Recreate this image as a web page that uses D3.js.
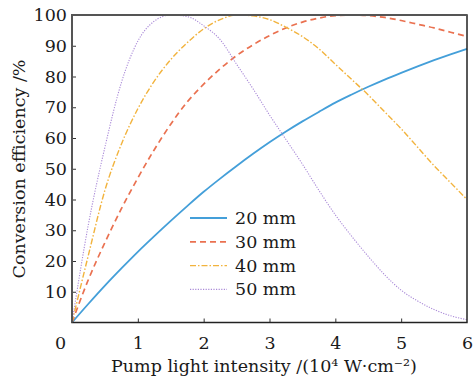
<!DOCTYPE html>
<html>
<head>
<meta charset="utf-8">
<script src="https://cdn.jsdelivr.net/npm/d3@7"></script>
<style>
  body { margin: 0; background: #fff; }
  svg text { font-family: "DejaVu Serif", serif; fill: #1a1a1a; }
</style>
</head>
<body>
<svg id="chart" width="473" height="379"></svg>
<script>
// pump intensity (10^4 W/cm^2), sampled every 0.25
var intensity = [0, 0.25, 0.5, 0.75, 1, 1.25, 1.5, 1.75, 2, 2.25, 2.5, 2.75, 3,
                 3.25, 3.5, 3.75, 4, 4.25, 4.5, 4.75, 5, 5.25, 5.5, 5.75, 6];

var eff20 = [0, 6.1, 12, 17.6, 23, 28.1, 33.05, 37.85, 42.5, 46.8, 50.9, 54.85, 58.6,
             62.1, 65.4, 68.5, 71.5, 74.15, 76.65, 79, 81.2, 83.3, 85.3, 87.2, 89];
var eff30 = [0, 14, 26, 37, 47, 56.2, 64.5, 71.7, 77.5, 82.5, 86.8, 90.3, 93.3,
             95.8, 97.7, 99, 99.8, 100, 99.8, 99.2, 98.2, 97, 95.8, 94.4, 93];
var eff40 = [0, 22, 43, 58, 69.5, 78.5, 85.5, 91, 95.5, 98.5, 100, 99.7, 98.5,
             96, 93, 89, 84, 79, 74, 68.5, 63, 57, 51, 45.5, 40];
var eff50 = [0, 32, 57, 78, 91.5, 98, 100, 99.5, 96.5, 92, 84, 76, 67.5,
             59.5, 51.5, 43, 35, 28, 21.5, 15.5, 10.5, 7, 4.2, 2.2, 0.9];

var seriesNames = ["20 mm", "30 mm", "40 mm", "50 mm"];
var xTicks = [0, 1, 2, 3, 4, 5, 6];
var yTicks = [10, 20, 30, 40, 50, 60, 70, 80, 90, 100];

var svg = d3.select("#chart");
var mLeft = 72, mRight = 467, mTop = 15, mBottom = 322.5;
var fs = 17.5;

var x = d3.scaleLinear().domain([0, 6]).range([mLeft, mRight]);
var y = d3.scaleLinear().domain([0, 100]).range([mBottom, mTop]);

var styles = [
  { color: "#449fd9", width: 1.8, dash: null },
  { color: "#ea7150", width: 1.7, dash: "6,4" },
  { color: "#f2b33d", width: 1.4, dash: "6,2,1.5,2" },
  { color: "#aa8ad8", width: 1.1, dash: "1.2,1.4" }
];
var allSeries = [eff20, eff30, eff40, eff50];

var line = d3.line()
    .x(function (d) { return x(d[0]); })
    .y(function (d) { return y(d[1]); })
    .curve(d3.curveMonotoneX);

// curves
allSeries.forEach(function (vals, i) {
    var pts = intensity.map(function (v, j) { return [v, vals[j]]; });
    svg.append("path")
        .attr("d", line(pts))
        .attr("fill", "none")
        .attr("stroke", styles[i].color)
        .attr("stroke-width", styles[i].width)
        .attr("stroke-dasharray", styles[i].dash);
});

// x axis
var xAxis = d3.axisBottom(x).tickValues(xTicks).tickFormat(d3.format("d"))
    .tickSize(-4).tickPadding(14);
var gx = svg.append("g").attr("transform", "translate(0," + mBottom + ")").call(xAxis);
gx.select(".domain").remove();
gx.selectAll(".tick line").attr("stroke", "#333")
    .style("display", function (d) { return (d === 0 || d === 6) ? "none" : null; });
gx.selectAll(".tick text").attr("font-size", fs).attr("fill", "#1a1a1a")
    .attr("dx", function (d) { return d === 0 ? -12 : 0; });

// y axis
var yAxis = d3.axisLeft(y).tickValues(yTicks).tickSize(-4).tickPadding(5);
var gy = svg.append("g").attr("transform", "translate(" + mLeft + ",0)").call(yAxis);
gy.select(".domain").remove();
gy.selectAll(".tick line").attr("stroke", "#333")
    .style("display", function (d) { return d === 100 ? "none" : null; });
gy.selectAll(".tick text").attr("font-size", fs).attr("fill", "#1a1a1a");

// frame: top/left a bit greyer like the original
svg.append("rect")
    .attr("x", mLeft).attr("y", mTop)
    .attr("width", mRight - mLeft).attr("height", mBottom - mTop)
    .attr("fill", "none").attr("stroke", "#222").attr("stroke-width", 1.5);
svg.append("path")
    .attr("d", "M" + mLeft + "," + mBottom + "V" + mTop + "H" + mRight)
    .attr("fill", "none").attr("stroke", "#555").attr("stroke-width", 2);

// legend
var legend = svg.append("g");
seriesNames.forEach(function (name, i) {
    var ly = 218 + i * 23.8;
    legend.append("line")
        .attr("x1", 190).attr("x2", 227).attr("y1", ly).attr("y2", ly)
        .attr("stroke", styles[i].color)
        .attr("stroke-width", styles[i].width)
        .attr("stroke-dasharray", styles[i].dash);
    legend.append("text")
        .attr("x", 235).attr("y", ly + 6)
        .attr("font-size", fs)
        .text(name);
});

// axis titles
svg.append("text")
    .attr("x", 264).attr("y", 372)
    .attr("text-anchor", "middle")
    .attr("font-size", fs)
    .text("Pump light intensity /(10⁴ W·cm⁻²)");

svg.append("text")
    .attr("transform", "translate(25," + 169 + ") rotate(-90)")
    .attr("text-anchor", "middle")
    .attr("font-size", fs)
    .text("Conversion efficiency /%");
</script>
</body>
</html>
